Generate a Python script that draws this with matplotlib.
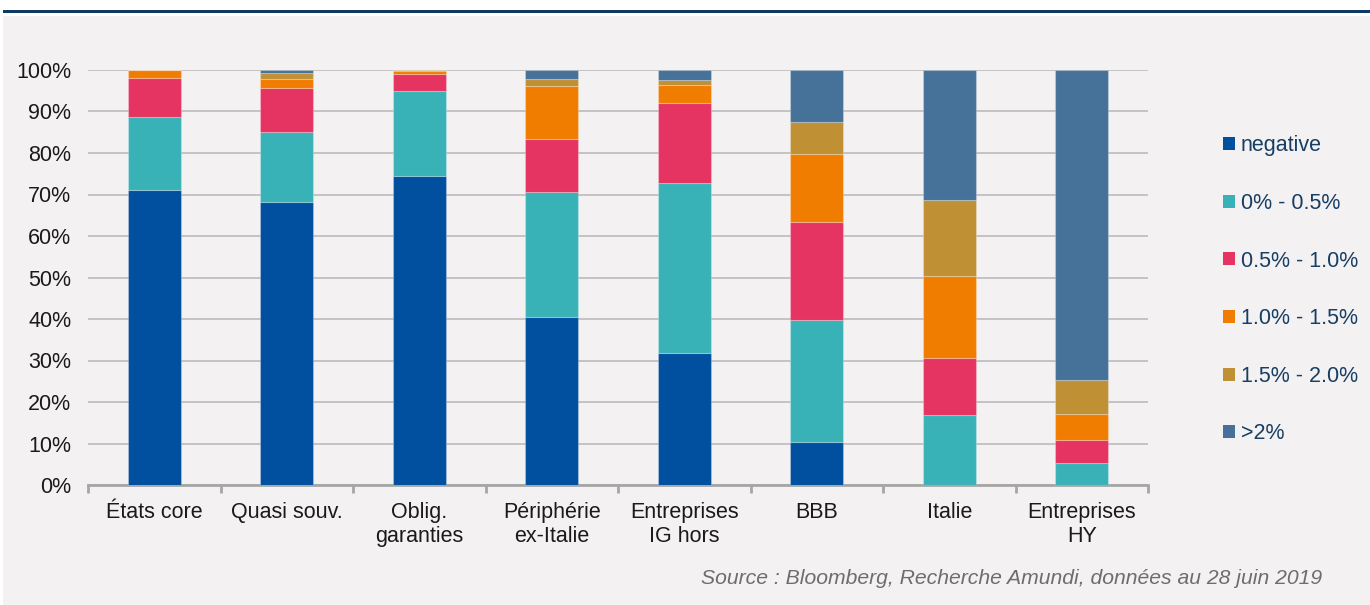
import numpy as np
import matplotlib
matplotlib.use("Agg")
from matplotlib import pyplot as plt
from matplotlib.patches import Patch, Rectangle

plt.rcParams['font.family'] = ['Liberation Sans', 'DejaVu Sans']

# Data (share of each yield bucket, %)
categories = ["États core", "Quasi souv.", "Oblig.\ngaranties", "Périphérie\nex-Italie",
              "Entreprises\nIG hors", "BBB", "Italie", "Entreprises\nHY"]
series_names = ["negative", "0% - 0.5%", "0.5% - 1.0%", "1.0% - 1.5%", "1.5% - 2.0%", ">2%"]
negative = [71.0, 68.2, 74.5, 40.5, 31.8, 10.4, 0.0, 0.0]
b0_05 = [17.7, 16.9, 20.5, 30.1, 41.0, 29.4, 16.8, 5.4]
b05_10 = [9.4, 10.6, 4.0, 12.8, 19.3, 23.6, 13.9, 5.4]
b10_15 = [1.9, 2.1, 0.7, 12.7, 4.4, 16.3, 19.7, 6.2]
b15_20 = [0.0, 1.4, 0.3, 1.8, 1.1, 7.8, 18.3, 8.4]
b_gt2 = [0.0, 0.8, 0.0, 2.1, 2.4, 12.5, 31.3, 74.6]
yticks = [0, 10, 20, 30, 40, 50, 60, 70, 80, 90, 100]

colors = ["#00509F", "#38B2B6", "#E53461", "#F07D00", "#C09035", "#467299"]
bg = "#F3F1F2"

#Figure and background frame
fig = plt.figure(figsize=(13.7, 6.05), dpi=100)
fig.patch.set_facecolor("white")
fig.patches.append(Rectangle((3/1370, 0), 1 - 3/1370, 1 - 16/605, transform=fig.transFigure,
                             facecolor=bg, edgecolor="none", zorder=-10))
fig.patches.append(Rectangle((3/1370, 1 - 13/605), 1 - 3/1370, 3/605, transform=fig.transFigure,
                             facecolor="#0E3A66", edgecolor="none", zorder=-9))

ax = fig.add_axes([88/1370, 120/605, 1060/1370, 415/605])
ax.set_facecolor(bg)

#Stacked bars
data = [negative, b0_05, b05_10, b10_15, b15_20, b_gt2]
x = np.arange(len(categories))
bottom = np.zeros(len(categories))
for vals, c, name in zip(data, colors, series_names):
    vals = np.array(vals)
    ax.bar(x, vals, 0.4, bottom=bottom, color=c, edgecolor=(1, 1, 1, 0.25),
           linewidth=0.8, label=name, zorder=3)
    bottom = bottom + vals

#Axes styling
ax.set_xlim(-0.5, len(categories) - 0.5)
ax.set_ylim(0, 100)
ax.set_yticks(yticks)
ax.set_yticklabels([f"{v}%" for v in yticks], fontsize=15.5, color="#1a1a1a")
ax.yaxis.grid(True, color="#C4C2C3", linewidth=1.4, zorder=0)
ax.tick_params(axis="y", length=0, pad=12)
for s in ["left", "right", "top"]:
    ax.spines[s].set_visible(False)
ax.spines["bottom"].set_color("#A6A6A6")
ax.spines["bottom"].set_linewidth(2)

ax.set_xticks(x)
ax.set_xticklabels(categories, fontsize=15.5, color="#1a1a1a", linespacing=1.22)
ax.tick_params(axis="x", which="major", length=0, pad=12)
ax.set_xticks(np.arange(len(categories) + 1) - 0.5, minor=True)
ax.tick_params(axis="x", which="minor", length=6, width=2, color="#A6A6A6")

#Legend
handles = [Patch(facecolor=c, edgecolor="none") for c in colors]
leg = fig.legend(handles, series_names, loc="upper left", bbox_to_anchor=(1204/1370, 1 - 116/605),
                 frameon=False, fontsize=15.5, labelspacing=1.70, handlelength=0.55,
                 handleheight=0.55, handletextpad=0.25)
for t in leg.get_texts():
    t.set_color("#173E63")

fig.text(1322/1370, 1 - 578/605, "Source : Bloomberg, Recherche Amundi, données au 28 juin 2019",
         ha="right", va="center", fontsize=15.2, style="italic", color="#6D6D6D")

plt.savefig("out.png", dpi=100, facecolor=fig.get_facecolor())
